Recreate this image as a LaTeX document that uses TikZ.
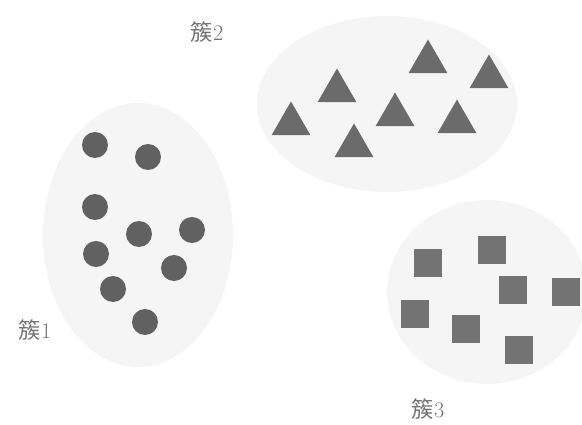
\documentclass[tikz,border=0pt]{standalone}
\usepackage{fontspec}
\newfontfamily\cjk{Noto Sans CJK SC}
\usepackage{tikz}
\usetikzlibrary{shapes.geometric}

\begin{document}
\begin{tikzpicture}[x=0.03cm, y=-0.03cm,
    blob/.style={fill=black!4},
    dot/.style={circle, fill=black!62, inner sep=0pt, minimum size=0.78cm},
    tri/.style={regular polygon, regular polygon sides=3, fill=black!58, inner sep=0pt, minimum size=1.35cm},
    sq/.style={rectangle, fill=black!55, inner sep=0pt, minimum size=0.84cm},
    lbl/.style={text=black!55, font=\fontsize{19}{20}\selectfont}]

    \useasboundingbox (0,0) rectangle (582,425);

    % Cluster backgrounds
    \fill[blob] (138,235) ellipse [x radius=95, y radius=132];
    \fill[blob] (387,104) ellipse [x radius=130, y radius=88];
    \fill[blob] (487,292) ellipse [x radius=100, y radius=92];

    % Cluster 1: circles
    \foreach \x/\y [count=\i] in {95/145, 148/157, 95/207, 139/234, 192/230,
                                  96/254, 174/268, 113/289, 145/322}
        \node[dot] (c\i) at (\x,\y) {};

    % Cluster 2: triangles
    \foreach \x/\y [count=\i] in {291/124, 337/91, 428/62, 489/77,
                                  395/115, 457/122, 354/146}
        \node[tri] (t\i) at (\x,\y) {};

    % Cluster 3: squares
    \foreach \x/\y [count=\i] in {428/263, 492/250, 513/290, 566/292,
                                  415/314, 466/329, 519/350}
        \node[sq] (s\i) at (\x,\y) {};

    % Labels
    \node[lbl] (lbl1) at (35,330) {{\cjk 簇}1};
    \node[lbl] (lbl2) at (207,32) {{\cjk 簇}2};
    \node[lbl] (lbl3) at (428,409) {{\cjk 簇}3};

\end{tikzpicture}
\end{document}
